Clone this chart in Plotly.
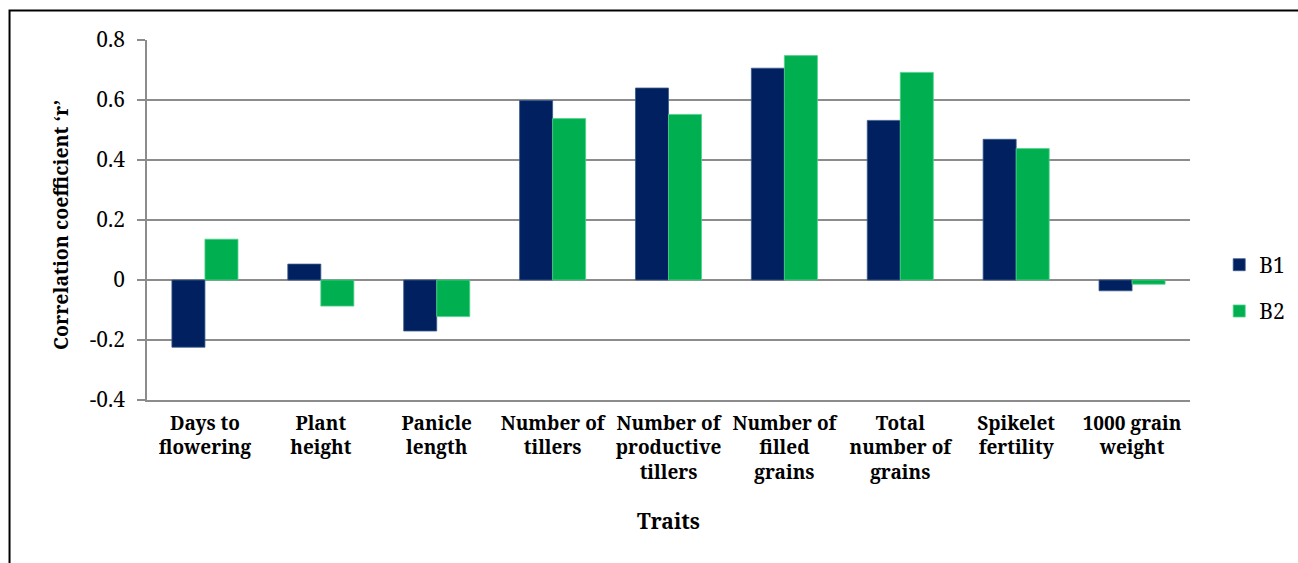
import plotly.graph_objects as go

categories = ["Days to<br>flowering", "Plant<br>height", "Panicle<br>length",
              "Number of<br>tillers", "Number of<br>productive<br>tillers",
              "Number of<br>filled<br>grains", "Total<br>number of<br>grains",
              "Spikelet<br>fertility", "1000 grain<br>weight"]
b1 = [-0.224, 0.053, -0.170, 0.598, 0.640, 0.706, 0.532, 0.469, -0.036]
b2 = [0.136, -0.087, -0.122, 0.538, 0.552, 0.748, 0.692, 0.438, -0.014]
ytickvals = [-0.4, -0.2, 0, 0.2, 0.4, 0.6, 0.8]
yticktext = ["-0.4", "-0.2", "0", "0.2", "0.4", "0.6", "0.8"]

FONT = "Noto Serif"
GRID = "#8c8c8c"

fig = go.Figure()
fig.add_trace(go.Bar(name="B1", x=categories, y=b1, marker_color="#002060",
                     marker_line=dict(color="#3a5a8c", width=0.8), legendgroup="g1"))
fig.add_trace(go.Bar(name="B2", x=categories, y=b2, marker_color="#00B050",
                     marker_line=dict(color="#4fd08a", width=0.8), legendgroup="g2"))

fig.update_layout(
    width=1298, height=563,
    margin=dict(l=147, r=108, t=40, b=163, autoexpand=False),
    paper_bgcolor="white", plot_bgcolor="white",
    barmode="group", bargap=0.43, bargroupgap=0,
    font=dict(family=FONT, size=21, color="black"),
    showlegend=True,
    legend=dict(x=1.028, y=0.311, xanchor="left", yanchor="middle",
                font=dict(family=FONT, size=21, color="black"),
                tracegroupgap=16, itemwidth=30, bgcolor="rgba(0,0,0,0)"),
    xaxis=dict(showgrid=False, showline=True, linecolor=GRID, linewidth=1.5,
               ticks="", tickfont=dict(family=FONT, size=19, color="black", weight="bold"),
               tickangle=0, ticklabelstandoff=5),
    yaxis=dict(range=[-0.4, 0.8], tickvals=ytickvals, ticktext=yticktext,
               showgrid=True, gridcolor=GRID, gridwidth=1.5,
               zeroline=True, zerolinecolor=GRID, zerolinewidth=1.5,
               showline=True, linecolor=GRID, linewidth=1.5,
               ticks="outside", ticklen=8, tickcolor=GRID, tickwidth=1.5,
               tickfont=dict(family=FONT, size=21, color="black"),
               ticklabelstandoff=8),
    annotations=[
        dict(text="<b>Traits</b>", xref="paper", yref="paper", x=0.5, y=-0.336,
             xanchor="center", yanchor="middle", showarrow=False,
             font=dict(family=FONT, size=21, color="black")),
        dict(text="<b>Correlation coefficient ‘r’</b>", xref="paper", yref="paper",
             x=-0.0834, y=0.486, xanchor="center", yanchor="middle", textangle=-90,
             showarrow=False, font=dict(family=FONT, size=19.5, color="black")),
    ],
    shapes=[
        dict(type="rect", xref="paper", yref="paper", x0=-0.1318, y0=-0.7,
             x1=1.2, y1=1.082, line=dict(color="black", width=2), fillcolor="rgba(0,0,0,0)",
             layer="below"),
    ],
)

fig.write_html("out.html")
